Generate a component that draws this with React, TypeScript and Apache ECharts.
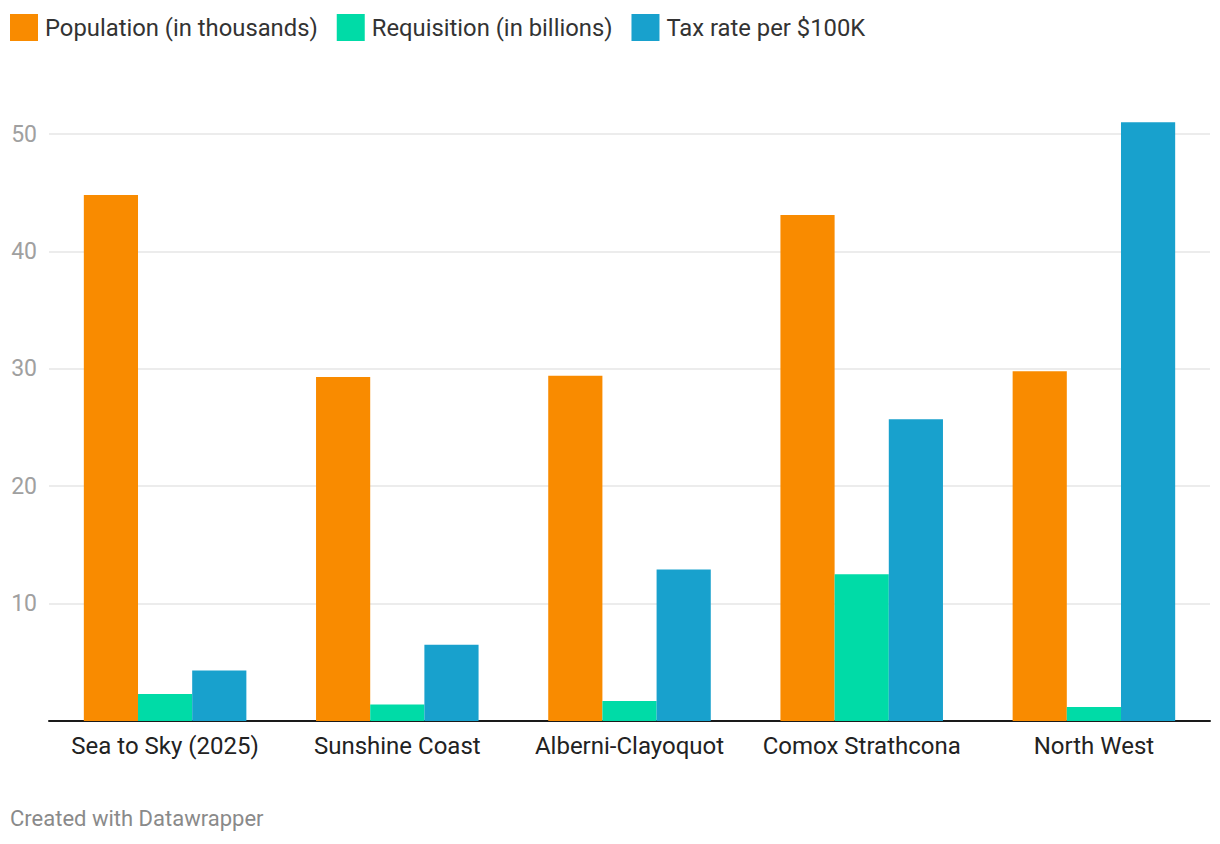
import React, { useEffect, useRef } from "react";
import * as echarts from "echarts";

const categories = ["Sea to Sky (2025)", "Sunshine Coast", "Alberni-Clayoquot", "Comox Strathcona", "North West"];
const population = [44.8, 29.3, 29.4, 43.1, 29.8];
const requisition = [2.3, 1.4, 1.7, 12.5, 1.2];
const taxRate = [4.3, 6.5, 12.9, 25.7, 51.0];
const seriesNames = ["Population (in thousands)", "Requisition (in billions)", "Tax rate per $100K"];
const colors = ["#f98b00", "#00dba7", "#18a1cd"];

export default function App() {
  const ref = useRef<HTMLDivElement>(null);
  useEffect(() => {
    if (!ref.current) return;
    const chart = echarts.init(ref.current, undefined, { renderer: "svg" });
    const font = "Roboto";
    const data = [population, requisition, taxRate];
    chart.setOption({
      animation: false,
      textStyle: { fontFamily: font },
      color: colors,
      legend: {
        left: 5,
        top: 9,
        itemWidth: 28,
        itemHeight: 27,
        itemGap: 19,
        icon: "rect",
        textStyle: { fontSize: 23.8, color: "#333", fontFamily: font, padding: [0, 0, 0, 2] },
        data: seriesNames,
      },
      title: {
        text: "Created with Datawrapper",
        left: 5,
        top: 802,
        textStyle: { fontSize: 22, color: "#8a8a8a", fontWeight: "normal", fontFamily: font },
      },
      grid: { left: 49, right: 10, top: 134, bottom: 123, containLabel: false },
      xAxis: {
        type: "category",
        data: categories,
        axisLine: { lineStyle: { color: "#1a1a1a", width: 2 } },
        axisTick: { show: false },
        axisLabel: { fontSize: 24, color: "#222", margin: 13, fontFamily: font, interval: 0, hideOverlap: false },
      },
      yAxis: {
        type: "value",
        min: 0,
        max: 50,
        interval: 10,
        axisLine: { show: false },
        axisTick: { show: false },
        splitLine: { lineStyle: { color: "#e6e6e6", width: 1.5 } },
        axisLabel: {
          fontSize: 23,
          color: "#a0a0a0",
          margin: 12,
          fontFamily: font,
          showMinLabel: false,
        },
      },
      series: seriesNames.map((name, i) => ({
        name,
        type: "bar",
        data: data[i],
        clip: false,
        barGap: "0%",
        barCategoryGap: "30%",
        itemStyle: { color: colors[i] },
      })),
    });
    return () => chart.dispose();
  }, []);
  return <div ref={ref} style={{ width: 1220, height: 844, position: "absolute", left: 0, top: 0 }} />;
}
